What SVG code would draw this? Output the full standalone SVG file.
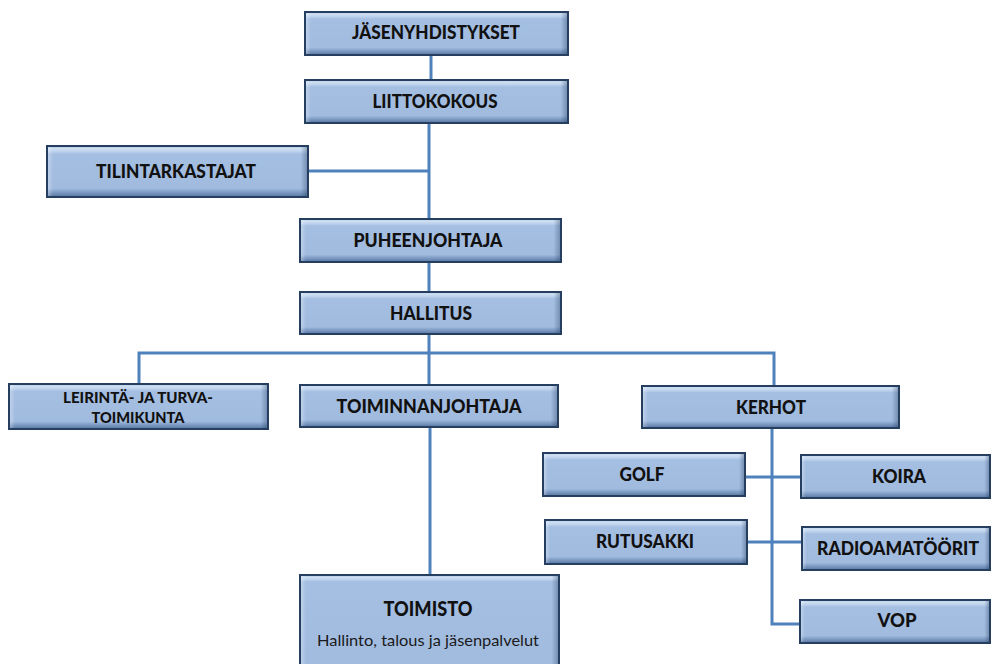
<svg xmlns="http://www.w3.org/2000/svg" width="991" height="664" viewBox="0 0 991 664">
  <defs>
    <linearGradient id="vg" x1="0" y1="0" x2="0" y2="1">
      <stop offset="0" stop-color="#7f9cc5"/>
      <stop offset="0.04" stop-color="#d2e2f4"/>
      <stop offset="0.11" stop-color="#bcd1ec"/>
      <stop offset="0.16" stop-color="#a5bfe2"/>
      <stop offset="0.83" stop-color="#a1bbdf"/>
      <stop offset="0.89" stop-color="#85a2ca"/>
      <stop offset="1" stop-color="#56759f"/>
    </linearGradient>
    <linearGradient id="vg2" x1="0" y1="0" x2="0" y2="1">
      <stop offset="0" stop-color="#7f9cc5"/>
      <stop offset="0.02" stop-color="#d2e2f4"/>
      <stop offset="0.05" stop-color="#bcd1ec"/>
      <stop offset="0.07" stop-color="#a5bfe2"/>
      <stop offset="1" stop-color="#a1bbdf"/>
    </linearGradient>
    <linearGradient id="hg" x1="0" y1="0" x2="1" y2="0">
      <stop offset="0" stop-color="#ffffff" stop-opacity="0.3"/>
      <stop offset="0.02" stop-color="#ffffff" stop-opacity="0"/>
      <stop offset="0.975" stop-color="#1f3a5c" stop-opacity="0"/>
      <stop offset="1" stop-color="#1f3a5c" stop-opacity="0.35"/>
    </linearGradient>
  </defs>
  <style>
    .b { fill: url(#vg); stroke: #263f60; stroke-width: 2; }
    .b2 { fill: url(#vg2); stroke: #263f60; stroke-width: 2; }
    .s { fill: url(#hg); stroke: none; }
    .t { font-family: Lato, "Open Sans", "Liberation Sans", sans-serif; font-weight: 900; font-size: 19px; fill: #111111; text-anchor: middle; }
    .ts { font-size: 15px; }
    .tl { font-size: 21px; }
    .tr { font-family: Lato, "Open Sans", "Liberation Sans", sans-serif; font-weight: normal; font-size: 16px; fill: #1a1a1a; text-anchor: middle; }
    .c { fill: none; stroke: #4f81bd; stroke-width: 3; }
  </style>
  <rect width="991" height="664" fill="#ffffff"/>

  <g id="connectors">
    <path class="c" d="M431,55 V80"/>
    <path class="c" d="M429,123 V219"/>
    <path class="c" d="M308,171 H429"/>
    <path class="c" d="M429,262 V292"/>
    <path class="c" d="M429,334 V385"/>
    <path class="c" d="M139,384 V353 H774 V386"/>
    <path class="c" d="M430,427 V575"/>
    <path class="c" d="M772,428 V624 H800"/>
    <path class="c" d="M745,477 H801"/>
    <path class="c" d="M747,542 H802"/>
  </g>

  <g id="jasenyhdistykset">
    <rect class="b" x="305" y="12" width="263" height="43"/>
    <rect class="s" x="306" y="13" width="261" height="41"/>
    <text class="t" x="436" y="39" textLength="168" lengthAdjust="spacingAndGlyphs">JÄSENYHDISTYKSET</text>
  </g>
  <g id="liittokokous">
    <rect class="b" x="305" y="80" width="263" height="43"/>
    <rect class="s" x="306" y="81" width="261" height="41"/>
    <text class="t" x="435" y="108" textLength="125" lengthAdjust="spacingAndGlyphs">LIITTOKOKOUS</text>
  </g>
  <g id="tilintarkastajat">
    <rect class="b" x="47" y="146" width="261" height="51"/>
    <rect class="s" x="48" y="147" width="259" height="49"/>
    <text class="t" x="176" y="178" textLength="160" lengthAdjust="spacingAndGlyphs">TILINTARKASTAJAT</text>
  </g>
  <g id="puheenjohtaja">
    <rect class="b" x="300" y="219" width="261" height="43"/>
    <rect class="s" x="301" y="220" width="259" height="41"/>
    <text class="t" x="428" y="247" textLength="149" lengthAdjust="spacingAndGlyphs">PUHEENJOHTAJA</text>
  </g>
  <g id="hallitus">
    <rect class="b" x="300" y="292" width="261" height="42"/>
    <rect class="s" x="301" y="293" width="259" height="40"/>
    <text class="t" x="431" y="320" textLength="82" lengthAdjust="spacingAndGlyphs">HALLITUS</text>
  </g>
  <g id="leirinta">
    <rect class="b" x="9" y="384" width="259" height="45"/>
    <rect class="s" x="10" y="385" width="257" height="43"/>
    <text class="t ts" x="138" y="403" textLength="150" lengthAdjust="spacingAndGlyphs">LEIRINTÄ- JA TURVA-</text>
    <text class="t ts" x="138" y="423" textLength="93" lengthAdjust="spacingAndGlyphs">TOIMIKUNTA</text>
  </g>
  <g id="toiminnanjohtaja">
    <rect class="b" x="300" y="385" width="258" height="42"/>
    <rect class="s" x="301" y="386" width="256" height="40"/>
    <text class="t" x="429" y="413" textLength="185" lengthAdjust="spacingAndGlyphs">TOIMINNANJOHTAJA</text>
  </g>
  <g id="kerhot">
    <rect class="b" x="642" y="386" width="257" height="42"/>
    <rect class="s" x="643" y="387" width="255" height="40"/>
    <text class="t" x="771" y="414" textLength="70" lengthAdjust="spacingAndGlyphs">KERHOT</text>
  </g>
  <g id="golf">
    <rect class="b" x="543" y="453" width="202" height="43"/>
    <rect class="s" x="544" y="454" width="200" height="41"/>
    <text class="t" x="642" y="481" textLength="45" lengthAdjust="spacingAndGlyphs">GOLF</text>
  </g>
  <g id="koira">
    <rect class="b" x="801" y="455" width="189" height="43"/>
    <rect class="s" x="802" y="456" width="187" height="41"/>
    <text class="t" x="899" y="483" textLength="54" lengthAdjust="spacingAndGlyphs">KOIRA</text>
  </g>
  <g id="rutusakki">
    <rect class="b" x="545" y="520" width="202" height="44"/>
    <rect class="s" x="546" y="521" width="200" height="42"/>
    <text class="t" x="645" y="548" textLength="98" lengthAdjust="spacingAndGlyphs">RUTUSAKKI</text>
  </g>
  <g id="radioamatoorit">
    <rect class="b" x="802" y="527" width="188" height="43"/>
    <rect class="s" x="803" y="528" width="186" height="41"/>
    <text class="t" x="898" y="555" textLength="162" lengthAdjust="spacingAndGlyphs">RADIOAMATÖÖRIT</text>
  </g>
  <g id="vop">
    <rect class="b" x="800" y="600" width="190" height="43"/>
    <rect class="s" x="801" y="601" width="188" height="41"/>
    <text class="t" x="897" y="627" textLength="39" lengthAdjust="spacingAndGlyphs">VOP</text>
  </g>
  <g id="toimisto">
    <rect class="b2" x="300" y="575" width="259" height="95"/>
    <rect class="s" x="301" y="576" width="257" height="93"/>
    <text class="t tl" x="428" y="616" textLength="89" lengthAdjust="spacingAndGlyphs">TOIMISTO</text>
    <text class="tr" x="428" y="646" textLength="222" lengthAdjust="spacingAndGlyphs">Hallinto, talous ja jäsenpalvelut</text>
  </g>
</svg>
